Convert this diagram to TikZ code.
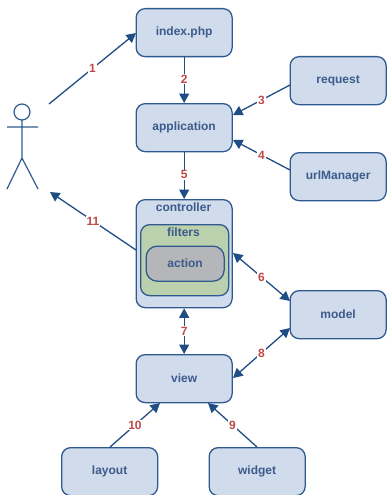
\documentclass[tikz,border=0pt]{standalone}
\usepackage{fontspec}
\setmainfont{Liberation Sans}
\usetikzlibrary{arrows.meta}
\definecolor{edgeblue}{HTML}{2F5A8F}
\definecolor{arrowblue}{HTML}{1F4E85}
\definecolor{boxfill}{HTML}{D0DCEB}
\definecolor{greenfill}{HTML}{BBD0AC}
\definecolor{greyfill}{HTML}{B4B6B9}
\definecolor{txtblue}{HTML}{3C5A8C}
\definecolor{numred}{HTML}{BC4A48}
\tikzset{
  x=1pt,y=-1pt,
  boxstyle/.style={draw=edgeblue,line width=1.3pt,fill=boxfill,rounded corners=9pt,minimum width=96pt,minimum height=48pt,inner sep=0pt,anchor=north west,font=\fontsize{12}{14}\selectfont\bfseries,text=txtblue},
  caption/.style={font=\fontsize{12}{14}\selectfont\bfseries,text=txtblue,inner sep=0pt},
  conn/.style={draw=arrowblue,line width=1.3pt,-{Triangle[length=9.5pt,width=10pt]}},
  dbl/.style={draw=arrowblue,line width=1.3pt,{Triangle[length=9.5pt,width=10pt]}-{Triangle[length=9.5pt,width=10pt]}},
  num/.style={fill=white,inner sep=1pt,font=\fontsize{12}{14}\selectfont\bfseries,text=numred},
  actorline/.style={draw=edgeblue,line width=1.2pt}
}
\begin{document}
\begin{tikzpicture}
\useasboundingbox (0,0) rectangle (386,495);
\node[boxstyle] (index) at (135.5,8) {index.php};
\node[boxstyle] (app) at (135.5,103) {application};
\node[boxstyle] (request) at (289.5,56) {request};
\node[boxstyle] (url) at (289.5,152) {urlManager};
\node[boxstyle,minimum height=108pt] (controller) at (135.5,199) {};
\node[caption] (ctitle) at (183.5,207) {controller};
\node[boxstyle,fill=greenfill,minimum width=88pt,minimum height=71pt] (filters) at (140,224) {};
\node[caption] (ftitle) at (183.5,232) {filters};
\node[boxstyle,fill=greyfill,minimum width=78pt,minimum height=35pt,rounded corners=11pt] (action) at (145.5,245.5) {action};
\node[boxstyle] (model) at (289.5,290) {model};
\node[boxstyle] (view) at (135.5,354) {view};
\node[boxstyle] (layout) at (61,447) {layout};
\node[boxstyle] (widget) at (208.5,447) {widget};
% actor
\draw[actorline] (22,112) circle (8);
\draw[actorline] (22,120) -- (22,158) (7,127) -- (38,127) (7,189) -- (22,158) -- (38,189);
\coordinate (actorA) at (49,104);
\coordinate (actorB) at (50,192);
\coordinate (c1) at (136,33);
\coordinate (c3a) at (290,85);
\coordinate (c3b) at (233,115);
\coordinate (c4a) at (290,170);
\coordinate (c4b) at (233,140);
\coordinate (c6a) at (233,253);
\coordinate (c6b) at (290,301);
\coordinate (c8a) at (233,378);
\coordinate (c8b) at (290,328);
\coordinate (c10a) at (110,447);
\coordinate (c10b) at (160,403);
\coordinate (c9a) at (257,447);
\coordinate (c9b) at (208,403);
\coordinate (c11) at (136,250);
\draw[conn] (actorA) -- node[num,pos=0.5] {1} (c1);
\draw[conn] (index.south) -- node[num,pos=0.48] {2} (app.north);
\draw[conn] (c3a) -- node[num,pos=0.5] {3} (c3b);
\draw[conn] (c4a) -- node[num,pos=0.5] {4} (c4b);
\draw[conn] (app.south) -- node[num,pos=0.48] {5} (controller.north);
\draw[dbl] (c6a) -- node[num,pos=0.5] {6} (c6b);
\draw[dbl] (controller.south) -- node[num,pos=0.5] {7} (view.north);
\draw[dbl] (c8a) -- node[num,pos=0.5] {8} (c8b);
\draw[conn] (c9a) -- node[num,pos=0.5] {9} (c9b);
\draw[conn] (c10a) -- node[num,pos=0.5] {10} (c10b);
\draw[conn] (c11) -- node[num,pos=0.5] {11} (actorB);
\end{tikzpicture}
\end{document}
